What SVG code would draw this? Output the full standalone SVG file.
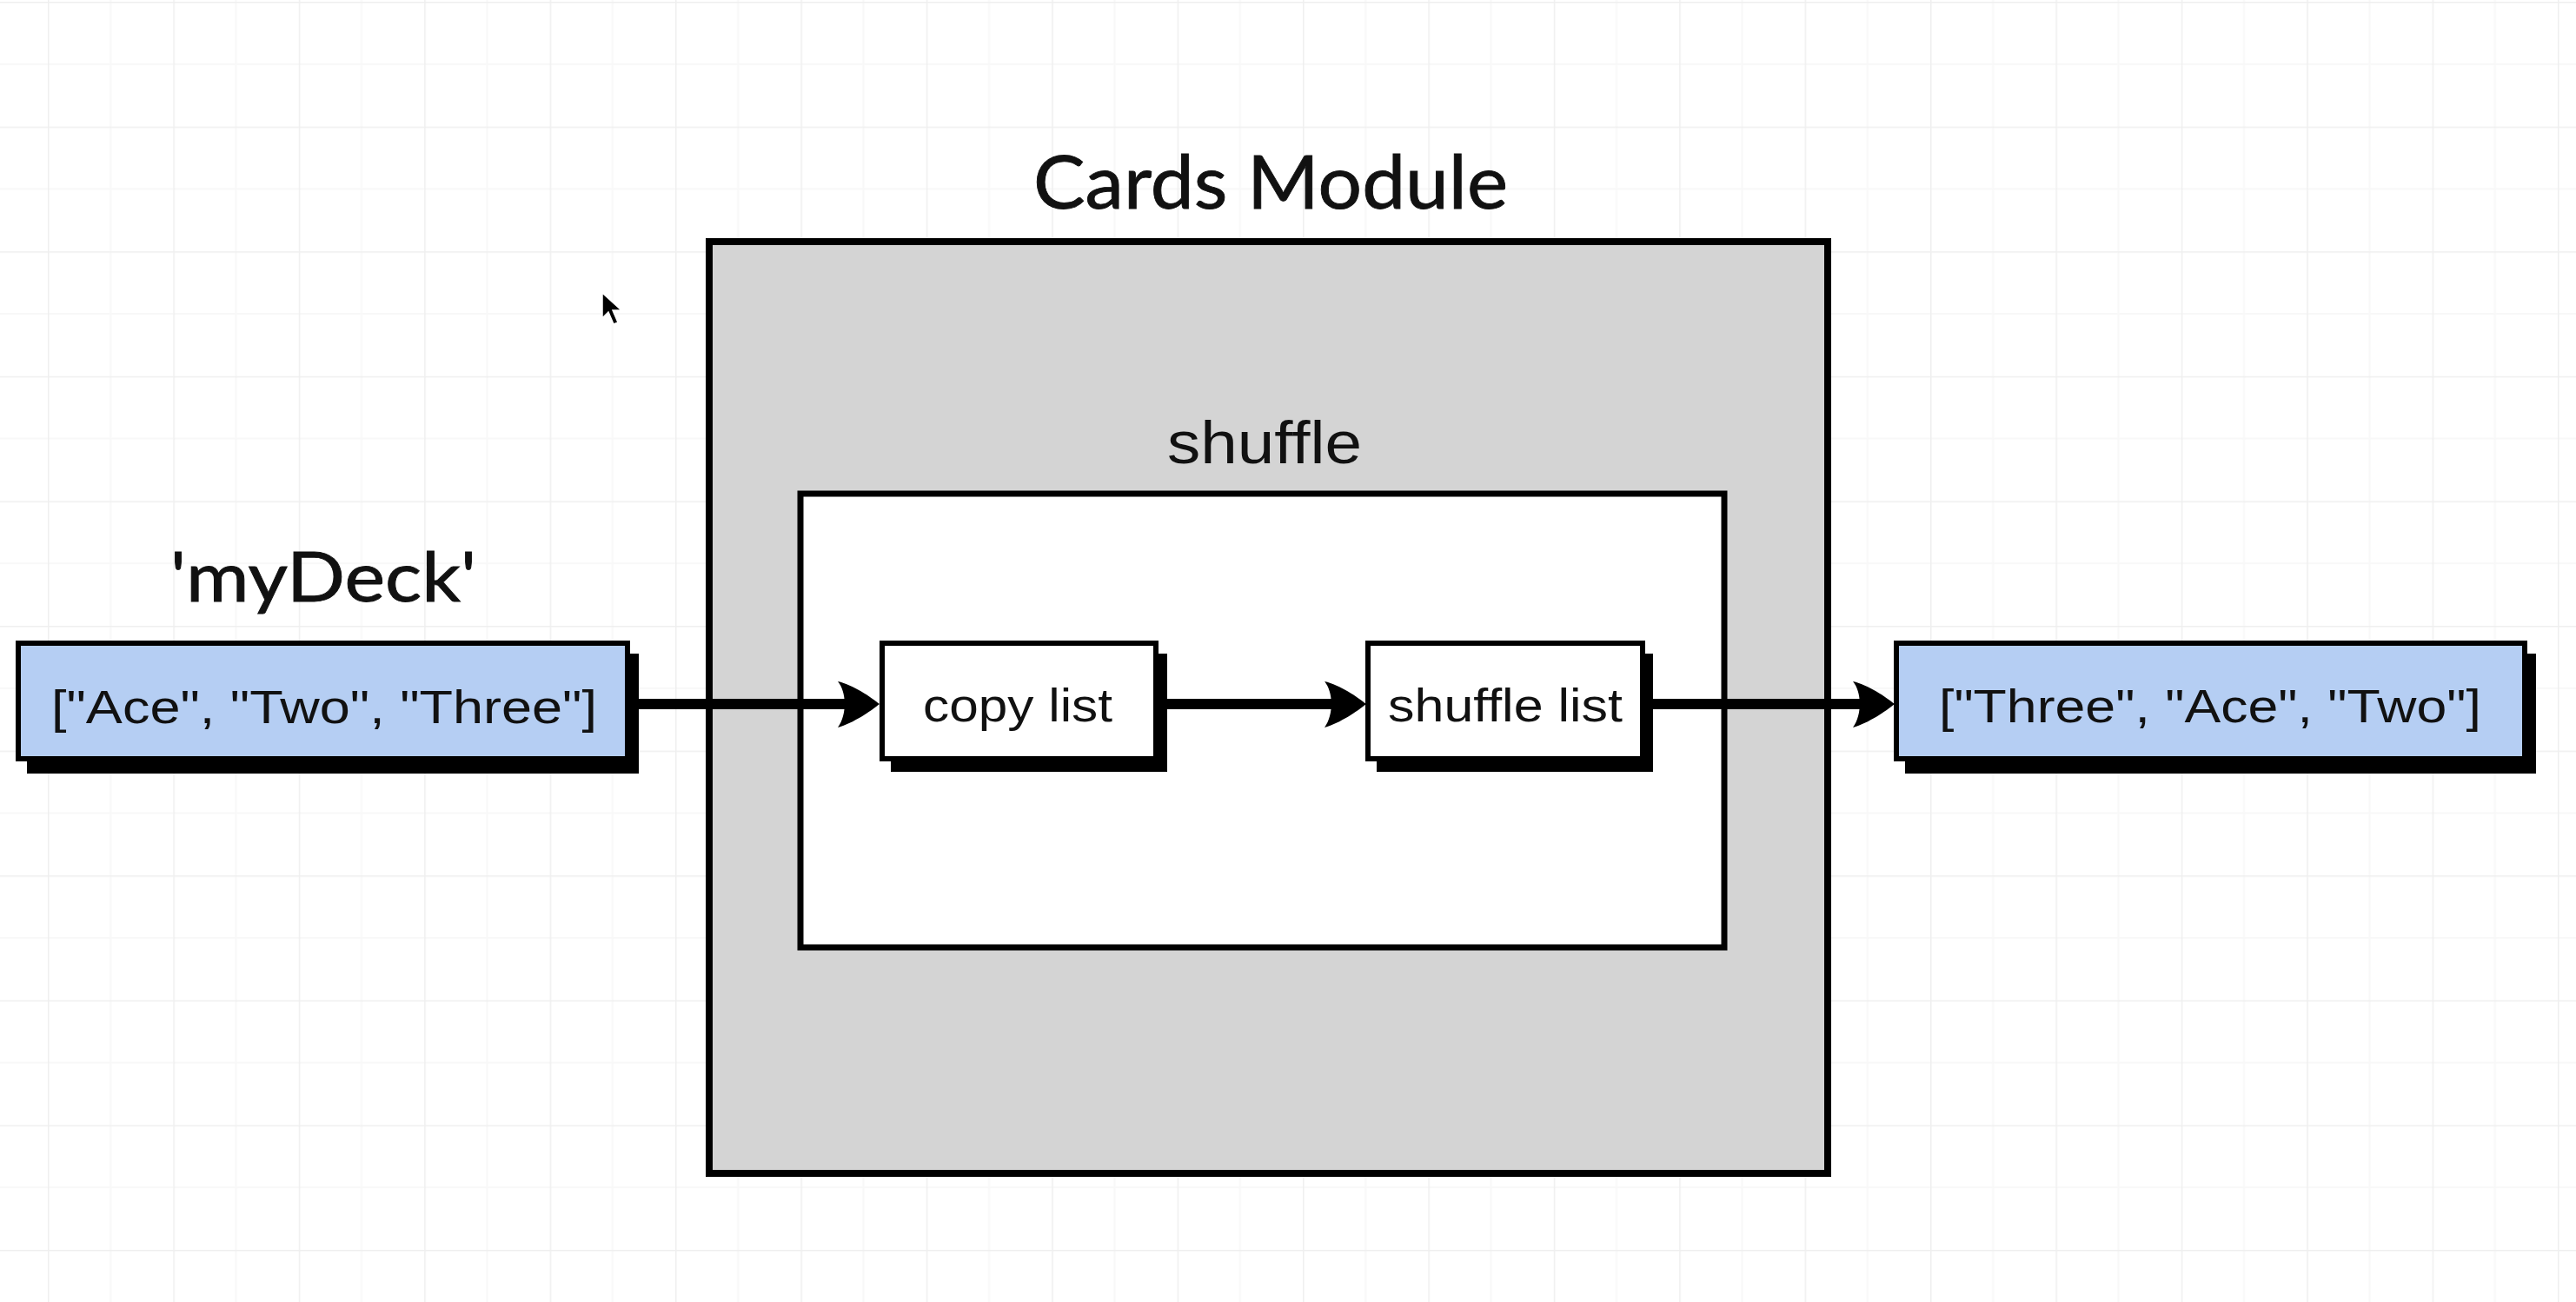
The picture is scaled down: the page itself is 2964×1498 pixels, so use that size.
<svg xmlns="http://www.w3.org/2000/svg" width="2964" height="1498" viewBox="0 0 2964 1498">
  <style>
    .lbl { font-family: "Liberation Sans", Arial, sans-serif; fill: #111; text-anchor: middle; }
    .ttl { font-family: Lato, "Noto Sans", sans-serif; fill: #111; stroke: #111; stroke-width: 0.9; text-anchor: middle; }
    .shadow { fill: #000; }
    .blue { fill: #b5cef3; stroke: #000; stroke-width: 6; }
    .white { fill: #fff; stroke: #000; stroke-width: 6; }
    .conn { fill: none; stroke: #000; stroke-width: 12; marker-end: url(#arrow); }
  </style>
  <defs>
    <pattern id="grid" patternUnits="userSpaceOnUse" x="55" y="2" width="144.4" height="143.6">
      <path d="M72.2,0 V143.6 M0,71.8 H144.4" stroke="#f8f8f8" stroke-width="2" fill="none"/>
      <path d="M0,0 V143.6 M0,0 H144.4" stroke="#efefef" stroke-width="3" fill="none"/>
    </pattern>
    <marker id="arrow" markerUnits="userSpaceOnUse" viewBox="-52 -30 56 60" refX="-36" refY="0" markerWidth="56" markerHeight="60" orient="auto">
      <path d="M0,0 C-10,-8 -30,-22 -48,-26 C-38,-14 -37,12 -48,27 C-30,22 -10,8 0,0 Z" fill="#000"/>
    </marker>
  </defs>

  <rect x="0" y="0" width="2964" height="1498" fill="#fff"/>
  <rect x="0" y="0" width="2964" height="1498" fill="url(#grid)"/>

  <!-- cursor -->
  <polygon points="693,337 693,366 700,359 706,373 711,371 705,357 715,357" fill="#000" stroke="#fff" stroke-width="1.5"/>

  <g id="cards-module">
    <rect x="816" y="278" width="1287" height="1072" fill="#d4d4d4" stroke="#000" stroke-width="8"/>
    <text class="ttl" x="1462" y="240" font-size="86" textLength="546" lengthAdjust="spacingAndGlyphs">Cards Module</text>
  </g>

  <g id="shuffle">
    <rect x="921" y="568" width="1063" height="522" fill="#fff" stroke="#000" stroke-width="7"/>
    <text class="lbl" x="1455" y="533" font-size="68" textLength="224" lengthAdjust="spacingAndGlyphs">shuffle</text>
  </g>

  <g id="copy-list">
    <rect class="shadow" x="1025" y="752" width="318" height="136"/>
    <rect class="white" x="1015" y="740" width="315" height="133"/>
    <text class="lbl" x="1171" y="830" font-size="54" textLength="218" lengthAdjust="spacingAndGlyphs">copy list</text>
  </g>

  <g id="shuffle-list">
    <rect class="shadow" x="1584" y="752" width="318" height="136"/>
    <rect class="white" x="1574" y="740" width="316" height="133"/>
    <text class="lbl" x="1732" y="830" font-size="54" textLength="270" lengthAdjust="spacingAndGlyphs">shuffle list</text>
  </g>

  <g id="my-deck">
    <rect class="shadow" x="31" y="752" width="704" height="138"/>
    <rect class="blue" x="21" y="740" width="701" height="133"/>
    <text class="lbl" x="373" y="832" font-size="54" textLength="628" lengthAdjust="spacingAndGlyphs">["Ace", "Two", "Three"]</text>
    <text class="ttl" x="372" y="692" font-size="80" textLength="352" lengthAdjust="spacingAndGlyphs">'myDeck'</text>
  </g>

  <g id="result">
    <rect class="shadow" x="2192" y="752" width="726" height="138"/>
    <rect class="blue" x="2182" y="740" width="723" height="133"/>
    <text class="lbl" x="2543" y="831" font-size="54" textLength="624" lengthAdjust="spacingAndGlyphs">["Three", "Ace", "Two"]</text>
  </g>

  <g id="connectors">
    <path class="conn" d="M733,810 H976"/>
    <path class="conn" d="M1343,810 H1536"/>
    <path class="conn" d="M1902,810 H2144"/>
  </g>
</svg>
